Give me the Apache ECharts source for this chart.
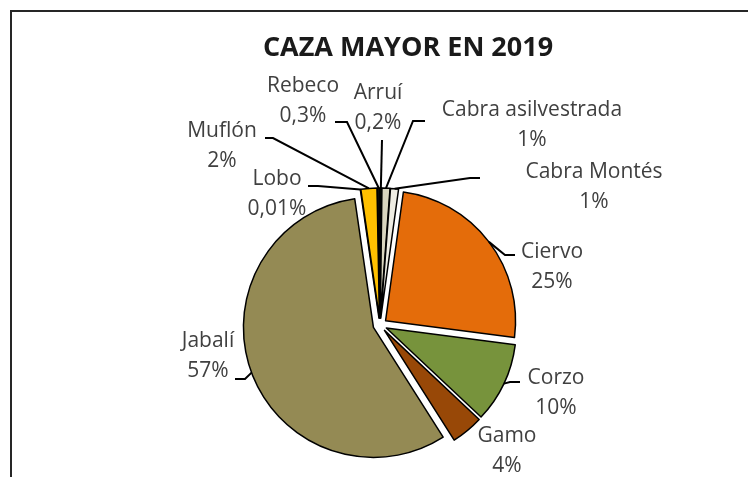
<!DOCTYPE html>
<html>
<head>
<meta charset="utf-8">
<script src="https://cdn.jsdelivr.net/npm/echarts@6/dist/echarts.min.js"></script>
<style>
html,body{margin:0;padding:0;background:#fff;}
#caza_pie_echart{width:748px;height:477px;}
</style>
</head>
<body>
<div id="caza_pie_echart"></div>
<script>
// datos (porcentajes)
var caza_names = ['Arruí', 'Cabra asilvestrada', 'Cabra Montés', 'Ciervo', 'Corzo', 'Gamo', 'Jabalí', 'Lobo', 'Muflón', 'Rebeco'];
var caza_values = [0.2, 1, 1, 25, 10, 4, 57, 0.01, 2, 0.3];
var caza_colors = ['#84c11c', '#d9d5bf', '#efede3', '#e46c0a', '#77933c', '#984807', '#948a54', '#4f6228', '#ffc000', '#111111'];

// colocacion de etiquetas: centro del texto, final de la linea guia (relativo al centro) y tramo horizontal
var caza_label_layout = {
    'Arruí':              {pos: [378, 108], end: [4, 32],     elbow: 0},
    'Cabra asilvestrada': {pos: [532, 125], end: [-107, -4],  elbow: -12},
    'Cabra Montés':       {pos: [594, 187], end: [-114, -9],  elbow: -10},
    'Ciervo':             {pos: [552, 267], end: [-37, -12],  elbow: -10},
    'Corzo':              {pos: [556, 393], end: [-36, -11],  elbow: -10},
    'Gamo':               {pos: [507, 451], end: null,        elbow: 0},
    'Jabalí':             {pos: [208, 356], end: [27, 23],    elbow: 10},
    'Lobo':               {pos: [277, 194], end: [31, -8],    elbow: 10},
    'Muflón':             {pos: [222, 146], end: [43, -8],    elbow: 8},
    'Rebeco':             {pos: [303, 101], end: [32, 21],    elbow: 12}
};
var caza_explode = 7;

var caza_pie_dom = document.getElementById("caza_pie_echart");
var caza_pie_chart = echarts.init(caza_pie_dom);

var caza_pie_data = [], caza_label_data = [];
for (var i = 0; i < caza_names.length; i++) {
    caza_pie_data.push({
        name: caza_names[i],
        value: caza_values[i],
        selected: true,
        itemStyle: {color: caza_colors[i]}
    });
    caza_label_data.push({name: caza_names[i], value: caza_values[i]});
}

var caza_frame = {
    type: 'rect',
    shape: {x: 11, y: 11, width: 800, height: 500},
    style: {fill: 'none', stroke: '#262626', lineWidth: 2},
    silent: true
};

var caza_pie_option = {
    animation: false,
    title: {
        text: 'CAZA MAYOR EN 2019',
        left: 403,
        top: 30,
        textAlign: 'center',
        textStyle: {fontFamily: 'Open Sans', fontWeight: 'bold', fontSize: 27, color: '#1a1a1a'}
    },
    graphic: [caza_frame],
    series: [
    {
        // solo etiquetas
        name: 'etiquetas',
        type: 'pie',
        z: 1,
        silent: true,
        center: [380, 325],
        radius: [0, 130],
        avoidLabelOverlap: false,
        data: caza_label_data,
        itemStyle: {color: 'rgba(0,0,0,0)', borderWidth: 0},
        label: {
            show: true,
            fontFamily: 'Open Sans',
            fontSize: 21,
            lineHeight: 30,
            color: '#404040',
            formatter: function (p) {
                return p.name + '\n' + String(p.value).replace('.', ',') + '%';
            }
        },
        labelLine: {show: false},
        labelLayout: function (params) {
            var lay = caza_label_layout[caza_names[params.dataIndex]];
            return {x: lay.pos[0], y: lay.pos[1], align: 'center', verticalAlign: 'middle'};
        }
    },
    {
        name: 'Caza mayor',
        type: 'pie',
        z: 2,
        center: [380, 325],
        radius: [0, 130],
        startAngle: 90,
        clockwise: true,
        selectedMode: 'multiple',
        selectedOffset: caza_explode,
        data: caza_pie_data,
        itemStyle: {borderColor: '#000', borderWidth: 1.5},
        emphasis: {disabled: true},
        label: {show: false},
        labelLine: {show: false}
    }]
};
caza_pie_chart.setOption(caza_pie_option, true);

/* lineas guia: desde el borde del sector (segun el layout del propio grafico) hasta la etiqueta */
var caza_pie_layout = caza_pie_chart.getModel().getSeriesByIndex(1).getData();
var caza_lines = [caza_frame];
for (var j = 0; j < caza_names.length; j++) {
    var lay = caza_label_layout[caza_names[j]];
    if (!lay.end) continue;
    var il = caza_pie_layout.getItemLayout(j);
    var mid = (il.startAngle + il.endAngle) / 2;
    var rr = il.r + caza_explode;
    var sx = il.cx + rr * Math.cos(mid), sy = il.cy + rr * Math.sin(mid);
    var ex = lay.pos[0] + lay.end[0], ey = lay.pos[1] + lay.end[1];
    caza_lines.push({
        type: 'polyline',
        silent: true,
        z: 10,
        shape: {points: [[sx, sy], [ex + lay.elbow, ey], [ex, ey]]},
        style: {stroke: '#000', lineWidth: 2, fill: null}
    });
}
caza_pie_chart.setOption({graphic: caza_lines});
</script>
</body>
</html>
